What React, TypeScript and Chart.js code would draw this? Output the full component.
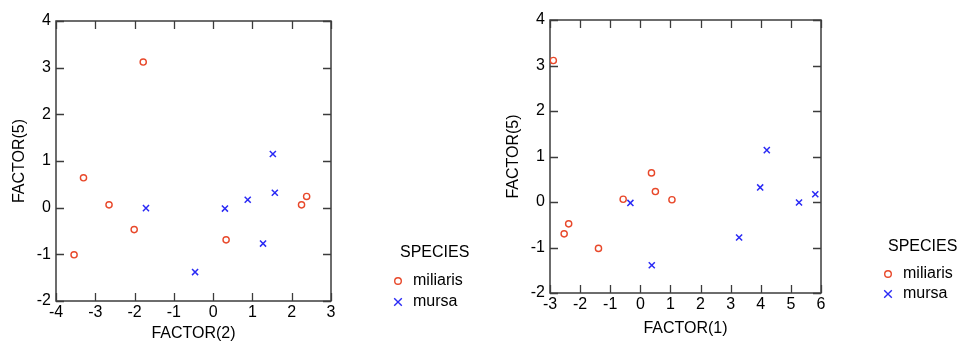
import React, { useEffect, useRef } from "react";
import { Chart, registerables } from "chart.js";
Chart.register(...registerables);

const speciesNames = ["miliaris", "mursa"];
const legendTitle = "SPECIES";

// Left plot: FACTOR(2) vs FACTOR(5)
const leftXTitle = "FACTOR(2)";
const leftYTitle = "FACTOR(5)";
const leftMiliarisX = [-1.78, -3.30, -2.65, -2.01, -3.54, 0.33, 2.25, 2.38];
const leftMiliarisY = [3.12, 0.64, 0.06, -0.47, -1.01, -0.69, 0.06, 0.24];
const leftMursaX = [-1.71, -0.46, 0.30, 0.88, 1.52, 1.57, 1.27];
const leftMursaY = [-0.01, -1.38, -0.02, 0.17, 1.15, 0.32, -0.77];

// Right plot: FACTOR(1) vs FACTOR(5)
const rightXTitle = "FACTOR(1)";
const rightYTitle = "FACTOR(5)";
const rightMiliarisX = [-2.89, -2.38, -2.53, -1.39, -0.57, 0.37, 0.50, 1.05];
const rightMiliarisY = [3.11, -0.48, -0.70, -1.02, 0.06, 0.64, 0.23, 0.05];
const rightMursaX = [-0.33, 0.38, 3.28, 3.98, 4.20, 5.27, 5.81];
const rightMursaY = [-0.02, -1.39, -0.78, 0.32, 1.14, -0.01, 0.17];

const RED = "#e8482a";
const BLUE = "#2a2af5";
const FONT = "'Liberation Sans', Arial, sans-serif";

const framePlugin = {
  id: "frameTicks",
  beforeDatasetsDraw(chart: any) {
    const { ctx, chartArea: a, scales } = chart;
    ctx.save();
    ctx.strokeStyle = "#3c3c3c";
    ctx.lineWidth = 1.5;
    ctx.strokeRect(a.left, a.top, a.right - a.left, a.bottom - a.top);
    const L = 8;
    ctx.beginPath();
    scales.x.ticks.forEach((t: any) => {
      const p = Math.round(scales.x.getPixelForValue(t.value)) + 0.5;
      ctx.moveTo(p, a.bottom);
      ctx.lineTo(p, a.bottom - L);
      ctx.moveTo(p, a.top);
      ctx.lineTo(p, a.top + L);
    });
    scales.y.ticks.forEach((t: any) => {
      const p = Math.round(scales.y.getPixelForValue(t.value)) + 0.5;
      ctx.moveTo(a.left, p);
      ctx.lineTo(a.left + L, p);
      ctx.moveTo(a.right, p);
      ctx.lineTo(a.right - L, p);
    });
    ctx.lineWidth = 1.3;
    ctx.stroke();
    ctx.restore();
  },
  afterDraw(chart: any) {
    const o = chart.options.plugins.speciesLegend;
    if (!o) return;
    const { ctx } = chart;
    ctx.save();
    ctx.fillStyle = "#000";
    ctx.font = `16px ${FONT}`;
    ctx.textBaseline = "middle";
    ctx.textAlign = "left";
    ctx.fillText(o.title, o.titleX, o.titleY);
    chart.data.datasets.forEach((ds: any, i: number) => {
      const y = o.itemY + i * o.itemGap;
      ctx.strokeStyle = ds.borderColor;
      ctx.lineWidth = 1.4;
      ctx.beginPath();
      if (ds.pointStyle === "circle") {
        ctx.arc(o.markerX, y, 3.3, 0, Math.PI * 2);
      } else {
        const r = 3.8;
        ctx.moveTo(o.markerX - r, y - r);
        ctx.lineTo(o.markerX + r, y + r);
        ctx.moveTo(o.markerX + r, y - r);
        ctx.lineTo(o.markerX - r, y + r);
      }
      ctx.stroke();
      ctx.fillStyle = "#000";
      ctx.fillText(ds.label, o.textX, y);
    });
    ctx.restore();
  },
};

function makePoints(xs: number[], ys: number[]) {
  return xs.map((x, i) => ({ x, y: ys[i] }));
}

type Cfg = {
  mx: number[]; my: number[]; ux: number[]; uy: number[];
  xMin: number; xMax: number; xTitle: string; yTitle: string;
  padding: any; yWidth: number; xHeight: number; yTitlePad: number;
  legend: any;
};

function ScatterPanel({ cfg, left }: { cfg: Cfg; left: number }) {
  const ref = useRef<HTMLCanvasElement | null>(null);
  useEffect(() => {
    if (!ref.current) return;
    const chart = new Chart(ref.current, {
      type: "scatter",
      data: {
        datasets: [
          {
            label: speciesNames[0],
            data: makePoints(cfg.mx, cfg.my),
            pointStyle: "circle",
            pointRadius: 3.1,
            borderColor: RED,
            backgroundColor: "rgba(0,0,0,0)",
            borderWidth: 1.4,
          },
          {
            label: speciesNames[1],
            data: makePoints(cfg.ux, cfg.uy),
            pointStyle: "crossRot",
            pointRadius: 4.3,
            borderColor: BLUE,
            backgroundColor: BLUE,
            borderWidth: 1.5,
          },
        ],
      } as any,
      options: {
        responsive: false,
        animation: false,
        layout: { padding: cfg.padding },
        plugins: {
          legend: { display: false },
          tooltip: { enabled: false },
          speciesLegend: cfg.legend,
        } as any,
        scales: {
          x: {
            type: "linear",
            min: cfg.xMin,
            max: cfg.xMax,
            grid: { display: false, drawTicks: false },
            border: { display: false },
            ticks: { stepSize: 1, color: "#000", font: { family: FONT, size: 16 }, padding: 2, maxRotation: 0, autoSkip: false },
            title: { display: true, text: cfg.xTitle, color: "#000", font: { family: FONT, size: 16 }, padding: 0 },
            afterFit: (s: any) => { s.height = cfg.xHeight; },
          },
          y: {
            type: "linear",
            min: -2,
            max: 4,
            grid: { display: false, drawTicks: false },
            border: { display: false },
            ticks: { stepSize: 1, color: "#000", font: { family: FONT, size: 16 }, padding: 5, autoSkip: false },
            title: { display: true, text: cfg.yTitle, color: "#000", font: { family: FONT, size: 16 }, padding: { top: cfg.yTitlePad, bottom: 0 } },
            afterFit: (s: any) => { s.width = cfg.yWidth; },
          },
        },
      } as any,
      plugins: [framePlugin as any],
    });
    return () => chart.destroy();
  }, []);
  return (
    <div style={{ position: "absolute", left, top: 0, width: 479, height: 343 }}>
      <canvas ref={ref} width={479} height={343} style={{ display: "block" }} />
    </div>
  );
}

const leftCfg: Cfg = {
  mx: leftMiliarisX, my: leftMiliarisY, ux: leftMursaX, uy: leftMursaY,
  xMin: -4, xMax: 3, xTitle: leftXTitle, yTitle: leftYTitle,
  padding: { left: 0, right: 148, top: 21, bottom: 0 },
  yWidth: 56, xHeight: 42, yTitlePad: 10,
  legend: { title: legendTitle, titleX: 400, titleY: 253, markerX: 398, textX: 413, itemY: 281, itemGap: 21 },
};

const rightCfg: Cfg = {
  mx: rightMiliarisX, my: rightMiliarisY, ux: rightMursaX, uy: rightMursaY,
  xMin: -3, xMax: 6, xTitle: rightXTitle, yTitle: rightYTitle,
  padding: { left: 0, right: 137, top: 20, bottom: 5 },
  yWidth: 71, xHeight: 45, yTitlePad: 25,
  legend: { title: legendTitle, titleX: 409, titleY: 247, markerX: 409, textX: 424, itemY: 274, itemGap: 20 },
};

export default function App() {
  return (
    <div style={{ position: "fixed", left: 0, top: 0, width: 958, height: 343, background: "#fff", overflow: "hidden" }}>
      <ScatterPanel cfg={leftCfg} left={0} />
      <ScatterPanel cfg={rightCfg} left={479} />
    </div>
  );
}
